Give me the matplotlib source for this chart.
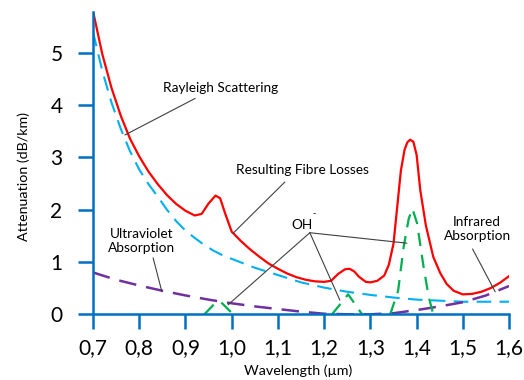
import numpy as np
import matplotlib
matplotlib.use("Agg")
import matplotlib.pyplot as plt

plt.rcParams['font.family'] = ['Lato', 'DejaVu Sans']

# resulting fibre losses (red)
loss_x = [0.70, 0.72, 0.74, 0.76, 0.78, 0.80, 0.82, 0.84, 0.86, 0.88, 0.90, 0.92,
          0.935, 0.95, 0.965, 0.975, 0.985, 1.00, 1.02, 1.04, 1.06, 1.08, 1.10,
          1.12, 1.14, 1.16, 1.18, 1.20, 1.215, 1.23, 1.245, 1.255, 1.265, 1.275,
          1.29, 1.30, 1.315, 1.33, 1.34, 1.35, 1.358, 1.366, 1.374, 1.38, 1.386,
          1.393, 1.40, 1.408, 1.42, 1.436, 1.451, 1.465, 1.48, 1.50, 1.52, 1.54,
          1.56, 1.58, 1.60]
loss_y = [5.80, 4.98, 4.33, 3.80, 3.36, 3.02, 2.73, 2.49, 2.28, 2.11, 1.98, 1.89,
          1.92, 2.12, 2.27, 2.22, 1.95, 1.58, 1.40, 1.24, 1.10, 0.97, 0.87,
          0.78, 0.71, 0.66, 0.63, 0.62, 0.64, 0.77, 0.86, 0.87, 0.82, 0.72,
          0.62, 0.61, 0.64, 0.74, 0.95, 1.35, 2.05, 2.75, 3.15, 3.29, 3.34,
          3.30, 3.05, 2.37, 1.70, 1.10, 0.79, 0.58, 0.45, 0.38, 0.39, 0.43,
          0.50, 0.60, 0.73]

# rayleigh scattering (cyan)
ray_x = [0.70, 0.72, 0.74, 0.76, 0.78, 0.80, 0.82, 0.84, 0.86, 0.88, 0.90, 0.92,
         0.94, 0.96, 0.98, 1.00, 1.05, 1.10, 1.15, 1.20, 1.25, 1.30, 1.35, 1.40,
         1.45, 1.50, 1.55, 1.60]
ray_y = [5.40, 4.66, 4.05, 3.55, 3.12, 2.77, 2.49, 2.25, 2.00, 1.78, 1.60, 1.46,
         1.33, 1.22, 1.13, 1.06, 0.89, 0.75, 0.61, 0.51, 0.43, 0.37, 0.32, 0.28,
         0.26, 0.24, 0.24, 0.24]

# ultraviolet + infrared absorption (purple)
uv_x = [0.70, 0.75, 0.80, 0.85, 0.90, 0.95, 1.00, 1.05, 1.10, 1.15, 1.20, 1.25,
        1.30, 1.35, 1.40, 1.45, 1.50, 1.55, 1.60]
uv_y = [0.80, 0.66, 0.55, 0.45, 0.36, 0.28, 0.21, 0.15, 0.10, 0.05, 0.01, 0.0,
        0.0, 0.02, 0.08, 0.15, 0.23, 0.36, 0.54]

# OH- absorption peaks (green)
oh1_x = [0.941, 0.966, 0.977, 1.003]
oh1_y = [0.0, 0.23, 0.23, 0.0]
oh2_x = [1.217, 1.252, 1.282]
oh2_y = [0.0, 0.38, 0.0]
oh3_x = [1.343, 1.360, 1.372, 1.383, 1.391, 1.401, 1.415, 1.426, 1.436]
oh3_y = [0.0, 0.45, 1.29, 1.83, 2.02, 1.74, 0.91, 0.34, 0.0]

xticks = [0.7, 0.8, 0.9, 1.0, 1.1, 1.2, 1.3, 1.4, 1.5, 1.6]
xtick_labels = ['0,7', '0,8', '0,9', '1,0', '1,1', '1,2', '1,3', '1,4', '1,5', '1,6']
yticks = [0, 1, 2, 3, 4, 5]

axis_col = '#0070C0'
lead_col = '#404040'

fig = plt.figure(figsize=(5.24, 3.8), dpi=100)
ax = fig.add_axes([0.1775, 0.173, 0.794, 0.795])

ax.plot(ray_x, ray_y, color='#00B0F0', lw=1.5, ls=(0, (7, 4)))
ax.plot(uv_x, uv_y, color='#7030A0', lw=1.8, ls=(0, (7, 4)))
for gx, gy in [(oh1_x, oh1_y), (oh2_x, oh2_y), (oh3_x, oh3_y)]:
    ax.plot(gx, gy, color='#00B050', lw=1.6, ls=(0, (6, 4)))
ax.plot(loss_x, loss_y, color='#FF0000', lw=1.6)

ax.set_xlim(0.7, 1.6)
ax.set_ylim(0, 5.78)
ax.set_xticks(xticks)
ax.set_xticklabels(xtick_labels)
ax.set_yticks(yticks)
for s in ['top', 'right']:
    ax.spines[s].set_visible(False)
for s in ['left', 'bottom']:
    ax.spines[s].set_color(axis_col)
    ax.spines[s].set_linewidth(1.8)
ax.tick_params(axis='both', colors=axis_col, width=1.8, length=11,
               labelsize=15, labelcolor='black')
ax.tick_params(axis='y', pad=11)
ax.tick_params(axis='x', pad=6)

ax.set_ylabel('Attenuation (dB/km)', fontsize=10.3)
ax.set_xlabel('Wavelength (µm)', fontsize=10.3)
ax.yaxis.set_label_coords(-0.152, 0.455)
ax.xaxis.set_label_coords(0.494, -0.165)

lp = dict(arrowstyle='-', color=lead_col, lw=0.8, shrinkA=0, shrinkB=0)
fs = 9.8

ax.text(0.975, 4.33, 'Rayleigh Scattering', fontsize=fs, ha='center', va='center')
ax.annotate('', xy=(0.769, 3.43), xytext=(0.921, 4.13), arrowprops=lp)

ax.text(1.152, 2.76, 'Resulting Fibre Losses', fontsize=fs, ha='center', va='center')
ax.annotate('', xy=(1.003, 1.55), xytext=(1.115, 2.53), arrowprops=lp)

ax.text(0.806, 1.40, 'Ultraviolet\nAbsorption', fontsize=fs, ha='center', va='center',
        linespacing=1.15)
ax.annotate('', xy=(0.849, 0.43), xytext=(0.830, 1.08), arrowprops=lp)

ax.text(1.152, 1.70, 'OH', fontsize=fs, ha='center', va='center')
ax.text(1.178, 1.92, '-', fontsize=6.5, ha='center', va='center')
for tx, ty in [(0.992, 0.18), (1.234, 0.27), (1.379, 1.36)]:
    ax.annotate('', xy=(tx, ty), xytext=(1.169, 1.56), arrowprops=lp)

ax.text(1.531, 1.63, 'Infrared\nAbsorption', fontsize=fs, ha='center', va='center',
        linespacing=1.15)
ax.annotate('', xy=(1.570, 0.43), xytext=(1.521, 1.25), arrowprops=lp)

fig.savefig('out.png', dpi=100)
